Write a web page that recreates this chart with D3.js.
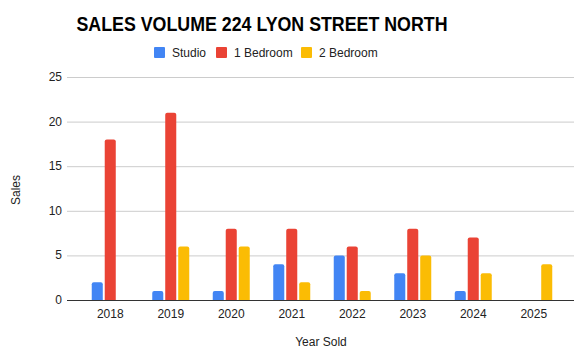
<!DOCTYPE html>
<html>
<head>
<meta charset="utf-8">
<script src="https://cdn.jsdelivr.net/npm/d3@7"></script>
<style>
	body { margin: 0; background: #fff; }
	text { font-family: Arial, "Liberation Sans", sans-serif; }
</style>
</head>
<body>
<div id="chart"></div>
<script>
var years = ['2018', '2019', '2020', '2021', '2022', '2023', '2024', '2025'];
var seriesNames = ['Studio', '1 Bedroom', '2 Bedroom'];
var studio = [2, 1, 1, 4, 5, 3, 1, 0];
var oneBed = [18, 21, 8, 8, 6, 8, 7, 0];
var twoBed = [0, 6, 6, 2, 1, 5, 3, 4];
var yTicks = [0, 5, 10, 15, 20, 25];
var colors = ['#4285f4', '#ea4335', '#fbbc04'];

var width = 583, height = 362;
var values = [studio, oneBed, twoBed];

var svg = d3.select('#chart')
	.append('svg')
	.attr('width', width)
	.attr('height', height);

var x = d3.scaleBand()
	.domain(years)
	.range([80, 564]);

var xInner = d3.scaleBand()
	.domain(seriesNames)
	.range([0, 37])
	.paddingInner(0.15);

var y = d3.scaleLinear()
	.domain([0, 25])
	.range([300, 77]);

// gridlines
svg.append('g')
	.selectAll('line')
	.data(yTicks.slice(1))
	.enter()
	.append('line')
	.attr('x1', 67)
	.attr('x2', 574)
	.attr('y1', function(d) { return y(d) + 0.5 })
	.attr('y2', function(d) { return y(d) + 0.5 })
	.attr('stroke', '#cccccc');

// y tick labels
svg.append('g')
	.selectAll('text')
	.data(yTicks)
	.enter()
	.append('text')
	.attr('x', 62)
	.attr('y', function(d) { return y(d) + 4 })
	.attr('text-anchor', 'end')
	.attr('font-size', 12)
	.attr('fill', '#222')
	.text(function(d) { return d });

// bars
var rows = [];
years.forEach(function(yr, i) {
	seriesNames.forEach(function(s, j) {
		rows.push({ year: yr, series: s, value: values[j][i], color: colors[j] });
	});
});

svg.append('g')
	.selectAll('path')
	.data(rows.filter(function(d) { return d.value > 0 }))
	.enter()
	.append('path')
	.attr('fill', function(d) { return d.color })
	.attr('d', function(d) {
		var x0 = x(d.year) + (x.bandwidth() - 37) / 2 + xInner(d.series);
		var w = xInner.bandwidth();
		var top = y(d.value), bot = y(0), r = 2;
		return 'M' + x0 + ',' + bot +
			'V' + (top + r) +
			'Q' + x0 + ',' + top + ' ' + (x0 + r) + ',' + top +
			'H' + (x0 + w - r) +
			'Q' + (x0 + w) + ',' + top + ' ' + (x0 + w) + ',' + (top + r) +
			'V' + bot + 'Z';
	});

// baseline
svg.append('line')
	.attr('x1', 67)
	.attr('x2', 574)
	.attr('y1', y(0) + 0.5)
	.attr('y2', y(0) + 0.5)
	.attr('stroke', '#333')
	.attr('stroke-width', 1.2);

// x tick labels
svg.append('g')
	.selectAll('text')
	.data(years)
	.enter()
	.append('text')
	.attr('x', function(d) { return x(d) + x.bandwidth() / 2 })
	.attr('y', 318)
	.attr('text-anchor', 'middle')
	.attr('font-size', 12)
	.attr('fill', '#222')
	.text(function(d) { return d });

// axis titles
svg.append('text')
	.attr('x', 321)
	.attr('y', 346)
	.attr('text-anchor', 'middle')
	.attr('font-size', 12)
	.attr('fill', '#222')
	.text('Year Sold');

svg.append('text')
	.attr('transform', 'translate(20,190) rotate(-90)')
	.attr('text-anchor', 'middle')
	.attr('font-size', 12)
	.attr('fill', '#222')
	.text('Sales');

// title
svg.append('text')
	.attr('x', 262)
	.attr('y', 31)
	.attr('text-anchor', 'middle')
	.attr('font-size', 20)
	.attr('font-weight', 'bold')
	.attr('fill', '#000')
	.attr('textLength', 371)
	.attr('lengthAdjust', 'spacingAndGlyphs')
	.text('SALES VOLUME 224 LYON STREET NORTH');

// legend
var legendX = [154, 216, 301];
var legend = svg.append('g')
	.selectAll('g')
	.data(seriesNames)
	.enter()
	.append('g')
	.attr('transform', function(d, i) { return 'translate(' + legendX[i] + ',47)' });

legend.append('rect')
	.attr('width', 11)
	.attr('height', 11)
	.attr('rx', 1)
	.attr('fill', function(d, i) { return colors[i] });

legend.append('text')
	.attr('x', 18)
	.attr('y', 10)
	.attr('font-size', 12)
	.attr('fill', '#222')
	.text(function(d) { return d });
</script>
</body>
</html>
